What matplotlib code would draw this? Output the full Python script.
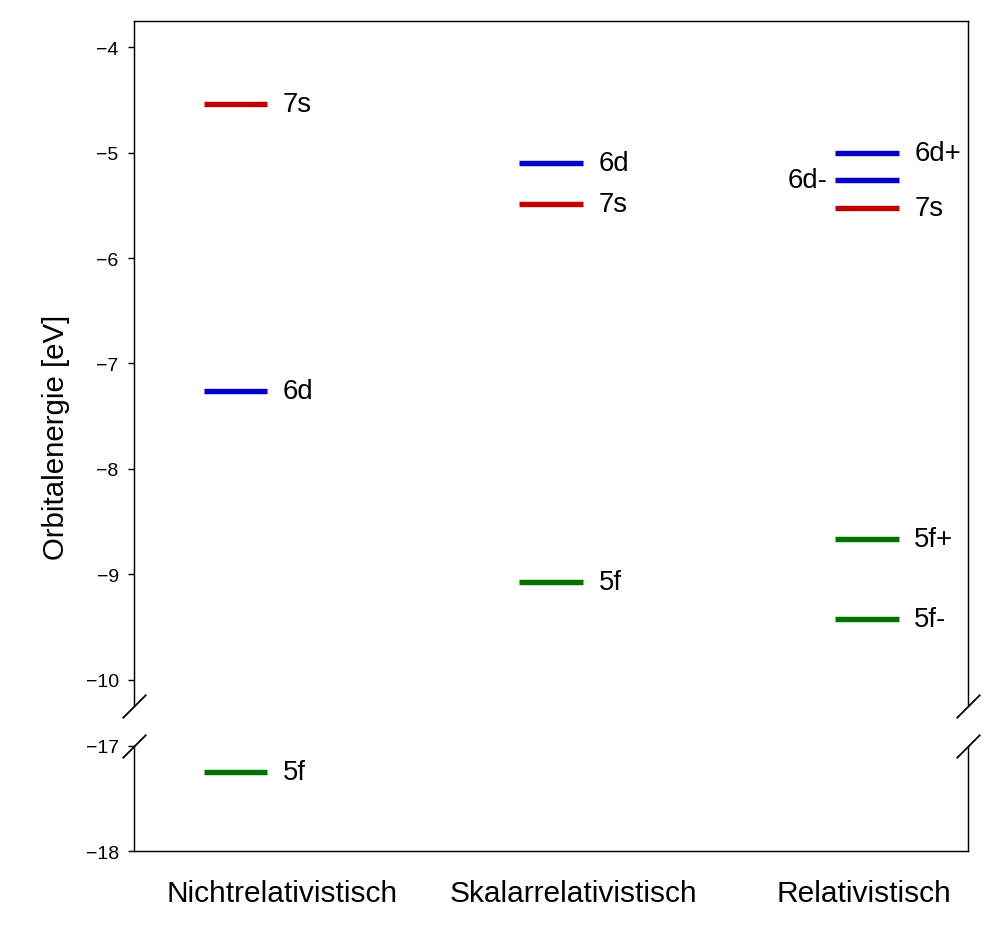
import matplotlib
matplotlib.use("Agg")
import matplotlib.pyplot as plt

plt.rcParams['font.family'] = ['Liberation Sans', 'DejaVu Sans']

# ---- data ----
categories = ["Nichtrelativistisch", "Skalarrelativistisch", "Relativistisch"]

nonrel_labels = ["7s", "6d", "5f"]
nonrel_energies = [-4.54, -7.26, -17.25]

scalar_labels = ["6d", "7s", "5f"]
scalar_energies = [-5.10, -5.49, -9.07]

rel_labels = ["6d+", "6d-", "7s", "5f+", "5f-"]
rel_energies = [-5.00, -5.26, -5.52, -8.67, -9.42]

top_ticks = [-4, -5, -6, -7, -8, -9, -10]
bottom_ticks = [-17, -18]

# ---- style ----
colors = {"7s": "#c00000", "6d": "#0000c8", "5f": "#007000"}
left_labels = {"6d-"}
top_lim = (-10.25, -3.75)
bot_lim = (-18.0, -17.0)
half_w = 0.1
lab_off = 0.15
xlim = (-0.32, 2.32)
cat_label_x = [0.15, 1.07, 1.99]

fig = plt.figure(figsize=(10, 9.29), dpi=100)
ax_top = fig.add_axes([0.134, 0.23897, 0.834, 0.97632 - 0.23897])
ax_bot = fig.add_axes([0.134, 0.08288, 0.834, 0.19591 - 0.08288])

spine_lw = 1.04
for ax in (ax_top, ax_bot):
    for s in ax.spines.values():
        s.set_linewidth(spine_lw)
    ax.set_xlim(*xlim)
    ax.tick_params(axis='y', labelsize=14, length=4.55, width=spine_lw, pad=6.5)

ax_top.set_ylim(*top_lim)
ax_bot.set_ylim(*bot_lim)
ax_top.spines['bottom'].set_visible(False)
ax_bot.spines['top'].set_visible(False)
ax_top.set_yticks(top_ticks)
ax_bot.set_yticks(bottom_ticks)
ax_top.set_xticks([])
ax_bot.set_xticks(cat_label_x)
ax_bot.set_xticklabels(categories, fontsize=21.5)
ax_bot.tick_params(axis='x', length=0, pad=20.5)

def fmt(v):
    return "\u2212%d" % abs(v) if v < 0 else "%d" % v
ax_top.set_yticklabels([fmt(t) for t in top_ticks])
ax_bot.set_yticklabels([fmt(t) for t in bottom_ticks])

groups = [(nonrel_labels, nonrel_energies),
          (scalar_labels, scalar_energies),
          (rel_labels, rel_energies)]

for xi, (labs, ens) in enumerate(groups):
    for lab, e in zip(labs, ens):
        ax = ax_top if e >= top_lim[0] else ax_bot
        c = colors[lab[:2]]
        ax.hlines(e, xi - half_w, xi + half_w, colors=c, linewidth=3.9)
        if lab in left_labels:
            ax.text(xi - 0.125, e, lab, ha='right', va='center', fontsize=19.8)
        else:
            ax.text(xi + lab_off, e, lab, ha='left', va='center', fontsize=19.8)

# break marks
kw = dict(marker=[(-1, -1), (1, 1)], markersize=17, linestyle='none',
          color='k', mec='k', mew=1.3, clip_on=False)
ax_top.plot([0, 1], [0, 0], transform=ax_top.transAxes, **kw)
ax_bot.plot([0, 1], [1, 1], transform=ax_bot.transAxes, **kw)

fig.text(0.056, 0.5295, "Orbitalenergie [eV]", rotation=90, va='center',
         ha='center', fontsize=21.2)

fig.savefig("out.png", dpi=100)
